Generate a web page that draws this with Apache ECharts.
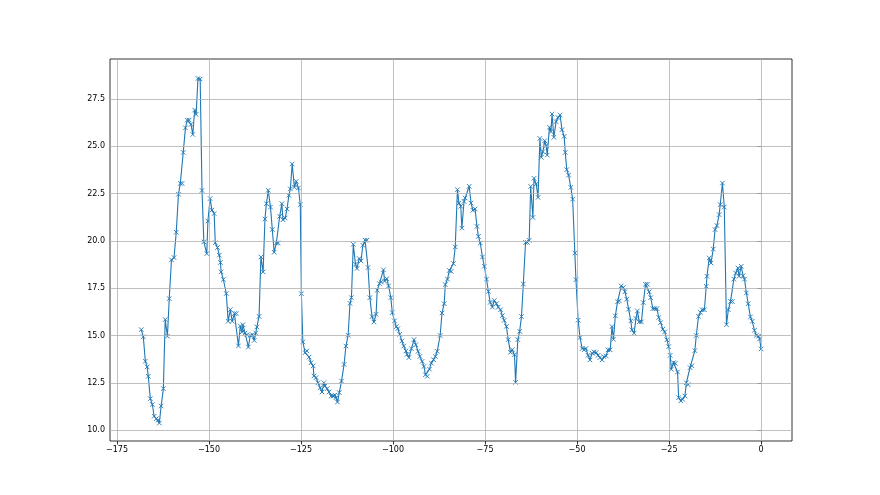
<!DOCTYPE html>
<html><head><meta charset="utf-8">
<script src="https://cdn.jsdelivr.net/npm/echarts@6/dist/echarts.min.js"></script>
<style>html,body{margin:0;padding:0;background:#fff}#c{width:880px;height:495px}</style>
</head><body><div id="c"></div>
<script>
const xValues = [
-168.4,-167.85,-167.3,-166.8,-166.5,-165.95,-165.4,-164.9,-164.3,-163.8,-163.5,-163.0,-162.4,-161.9,-161.3,-160.8,-160.2,-159.5,-158.9,-158.3,-157.8,-157.3,-157.0,-156.4,-155.9,-155.4,-154.9,-154.4,-153.9,-153.5,-153.0,-152.4,-151.9,-151.4,-150.6,-150.3,-149.7,-149.2,-148.6,-148.3,-147.7,-147.2,-146.9,-146.7,-146.1,-145.3,-144.8,-144.2,-143.7,-143.1,-142.6,-142.0,-141.5,-141.0,
-140.8,-140.2,-139.7,-139.3,-138.8,-138.2,-137.7,-137.3,-137.0,-136.4,-135.9,-135.3,-134.8,-134.4,-133.9,-133.3,-132.8,-132.3,-131.7,-131.2,-130.8,-130.2,-129.9,-129.3,-128.8,-128.3,-127.9,-127.4,-126.8,-126.3,-125.7,-125.2,-124.9,
-124.5,-123.9,-123.4,-122.8,-122.3,-121.7,-121.5,-120.9,-120.4,-119.8,-119.3,-118.8,-118.5,-117.9,-117.4,-116.8,-116.3,-115.8,-115.5,-115.1,-114.6,-114.0,-113.3,-112.8,-112.2,-111.7,-111.3,-110.8,-110.2,
-109.8,-109.2,-108.7,-108.2,-107.6,-107.1,-106.8,-106.3,-105.7,-105.2,-104.6,-104.3,-103.7,-103.2,-102.6,-102.3,-101.7,-101.2,-100.6,-100.2,-99.6,-99.1,-98.7,-98.2,-97.6,-97.1,-96.5,-96.2,-95.7,-95.0,
-94.3,-93.8,-93.2,-92.7,-92.1,-91.6,-91.2,-90.7,-90.1,-89.6,-89.0,-88.5,-88.0,-87.2,-86.7,-86.1,-85.8,-85.2,-84.7,-84.2,-83.6,-83.1,-82.5,-82.1,-81.6,-81.3,-80.7,-80.4,
-79.3,-78.8,-78.3,-77.7,-77.2,-76.8,-76.3,-75.7,-75.2,-74.6,-74.1,-73.6,-73.0,-72.5,-71.9,-71.4,-70.8,-70.3,-69.8,-69.2,-68.7,-68.1,-67.6,-67.0,-66.7,-66.1,-65.6,
-65.1,-64.6,-64.0,-63.5,-63.0,-62.6,-62.0,-61.7,-61.1,-60.6,-60.1,-59.7,-59.3,-58.8,-58.4,-58.1,-57.5,-57.1,-56.8,-56.3,-55.7,-55.2,-54.6,-54.1,-53.5,-53.2,-52.8,-52.3,-51.7,-51.2,-50.6,-50.3,
-49.7,-49.2,-48.6,-48.1,-47.6,-47.0,-46.5,-45.9,-45.4,-44.8,-44.3,-43.8,-43.2,-42.7,-42.1,-41.6,-41.0,-40.5,-40.1,-39.6,-39.0,-38.5,-38.0,-37.4,-37.0,-36.5,-36.0,-35.4,
-35.1,-34.5,-34.0,-33.6,-33.1,-32.5,-32.0,-31.4,-30.9,-30.4,-30.0,-29.4,-28.9,-28.3,-27.8,-27.3,-26.7,-26.2,-25.6,-25.1,-24.7,-24.4,-23.8,-23.3,-22.7,-22.4,-21.8,-21.3,-20.7,
-20.3,-19.8,-19.3,-18.8,-18.0,-17.6,-17.0,-16.5,-16.0,-15.4,-14.9,-14.7,-14.1,-13.6,-13.0,-12.5,-12.0,-11.4,-11.1,-10.5,-10.0,-9.4,-8.9,-8.3,-7.8,-7.4,-6.9,-6.3,-6.0,-5.4,-4.9,-4.5,-4.0,-3.5,-2.9,-2.4,-1.8,-1.3,-0.7,-0.4,0.0
];
const yValues = [
15.31,14.93,13.64,13.34,12.84,11.66,11.35,10.73,10.6,10.53,10.37,11.27,12.19,15.84,14.96,16.95,19.0,19.12,20.46,22.47,23.04,23.04,24.68,25.98,26.39,26.39,26.16,25.63,26.92,26.69,28.59,28.56,22.67,19.95,19.33,21.05,22.24,21.63,21.45,19.9,19.65,19.25,18.86,18.36,17.96,17.22,15.75,16.37,15.75,16.16,16.16,14.45,15.5,15.19,
15.57,15.13,15.04,14.39,15.0,15.04,14.74,15.13,15.45,16.01,19.15,18.36,21.16,21.97,22.68,21.79,20.6,19.4,19.89,19.89,21.3,21.97,21.12,21.21,21.69,22.41,22.75,24.07,22.84,23.15,22.8,21.92,17.21,
14.66,14.09,14.18,13.86,13.56,13.39,12.86,12.77,12.5,12.24,12.01,12.5,12.33,12.19,12.01,11.8,11.8,11.85,11.71,11.48,11.98,12.59,13.47,14.44,15.01,16.7,17.0,19.82,18.77,
18.54,19.07,18.94,19.77,20.04,20.04,18.59,17.0,16.0,15.71,16.12,17.39,17.74,17.83,18.47,17.88,18.0,17.62,17.0,16.21,15.77,15.47,15.36,15.06,14.71,14.44,14.18,14.0,13.83,14.3,
14.78,14.51,14.16,13.89,13.63,13.36,12.92,12.84,13.22,13.54,13.72,13.89,14.16,15.0,16.19,16.68,17.69,17.98,18.44,18.39,18.8,19.68,22.71,22.0,21.83,20.68,22.09,22.27,
22.89,22.0,21.62,21.69,20.77,20.24,19.89,19.15,18.66,17.98,17.33,16.75,16.5,16.85,16.68,16.5,16.36,16.05,15.8,15.48,14.78,14.11,14.25,13.98,12.52,14.78,15.22,
16.0,17.72,19.92,19.92,20.03,22.88,21.24,23.31,23.01,22.3,25.42,24.42,24.72,25.3,25.04,24.54,26.01,25.78,26.71,25.48,26.31,26.53,26.66,25.88,25.53,24.68,23.77,23.48,22.83,22.21,19.36,17.95,
15.81,14.89,14.31,14.24,14.31,13.95,13.71,14.06,14.13,14.1,13.95,13.83,13.71,13.88,13.92,14.24,14.24,15.47,14.8,16.04,16.78,16.83,17.62,17.54,17.31,16.92,16.39,15.77,
15.3,15.12,15.9,16.3,15.72,15.72,16.74,17.71,17.71,17.31,17.0,16.42,16.42,16.42,15.95,15.68,15.33,15.19,14.77,14.41,13.95,13.21,13.56,13.53,13.07,11.71,11.54,11.62,11.8,
12.5,12.4,13.3,13.4,14.2,15.0,16.01,16.22,16.36,16.36,17.6,18.13,19.1,18.83,19.57,20.6,20.81,21.39,21.92,23.06,21.79,15.57,16.36,16.8,16.8,17.98,18.3,18.57,18.13,18.66,18.16,17.98,17.25,16.68,15.98,15.75,15.27,15.0,14.96,14.82,14.29
];
const xTicks = [-175,-150,-125,-100,-75,-50,-25,0];
const yTicks = [10,12.5,15,17.5,20,22.5,25,27.5];

const data = xValues.map((x, i) => [x, yValues[i]]);
const chart = echarts.init(document.getElementById('c'), null, {renderer: 'canvas'});
const labelFont = {fontSize: 8, color: '#000', fontFamily: 'DejaVu Sans'};
chart.setOption({
  animation: false,
  backgroundColor: '#fff',
  grid: {left: 110, right: 88, top: 59, bottom: 54, show: true, borderColor: '#000', borderWidth: 0.8, backgroundColor: 'transparent'},
  xAxis: {
    type: 'value', min: -176.9, max: 8.4,
    axisLine: {show: false},
    splitLine: {show: false},
    axisTick: {show: true, customValues: xTicks, length: 3.5, lineStyle: {color: '#000', width: 0.8}},
    axisLabel: Object.assign({customValues: xTicks, margin: 5,
      formatter: v => v < 0 ? '\u2212' + Math.abs(v) : String(v)}, labelFont)
  },
  yAxis: {
    type: 'value', min: 9.42, max: 29.62,
    axisLine: {show: false},
    splitLine: {show: false},
    axisTick: {show: true, customValues: yTicks, length: 3.5, lineStyle: {color: '#000', width: 0.8}},
    axisLabel: Object.assign({customValues: yTicks, margin: 5,
      formatter: v => v.toFixed(1)}, labelFont)
  },
  series: [
    {
      type: 'line', data: [], z: 1, silent: true,
      markLine: {
        silent: true, symbol: ['none', 'none'], label: {show: false}, animation: false,
        lineStyle: {color: '#b0b0b0', width: 0.8, type: 'solid'},
        emphasis: {disabled: true},
        data: xTicks.map(v => ({xAxis: v})).concat(yTicks.map(v => ({yAxis: v})))
      }
    },
    {
      type: 'line', data: data, z: 3,
      symbol: 'path://M0,0L10,10M10,0L0,10', symbolSize: 4.5, showSymbol: true,
      itemStyle: {color: '#1f77b4', borderColor: '#1f77b4', borderWidth: 0.9},
      lineStyle: {color: '#1f77b4', width: 1.1}
    }
  ]
});
</script>
</body></html>
